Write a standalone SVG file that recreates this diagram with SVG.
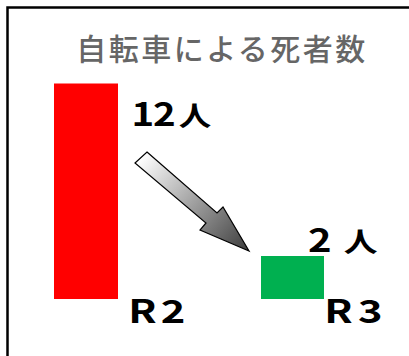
<svg xmlns="http://www.w3.org/2000/svg" width="409" height="356" viewBox="0 0 409 356">
<style>
.lbl{font-family:"Noto Sans CJK JP","Liberation Sans",sans-serif;font-weight:bold;font-size:32px;fill:#000}
.jp{font-size:27px}
.title{font-family:"Noto Sans CJK JP","Liberation Sans",sans-serif;font-weight:500;font-size:30px;fill:#666666}
</style>
<defs>
<linearGradient id="g" gradientUnits="userSpaceOnUse" x1="141" y1="157" x2="249" y2="251">
<stop offset="0" stop-color="#ffffff"/>
<stop offset="1" stop-color="#3c3c3c"/>
</linearGradient>
</defs>
<rect width="409" height="356" fill="#fff"/>
<path d="M7.5 356 V7.5 H409" fill="none" stroke="#000" stroke-width="2.5"/>
<g id="title"><text class="title" x="222" y="60" text-anchor="middle" letter-spacing="2.5">自転車による死者数</text></g>
<g id="r2bar"><rect x="54" y="83.5" width="64" height="215.5" fill="#ff0000"/></g>
<g id="r3bar"><rect x="261" y="256" width="63" height="43" fill="#00b050"/></g>
<g id="labels">
<text class="lbl" transform="translate(135 126) scale(1.2 1)"><tspan x="-3">1</tspan><tspan x="15">2</tspan><tspan class="jp" x="36.5">人</tspan></text>
<text class="lbl" transform="translate(310 252) scale(1.25 1)"><tspan x="-1.6">2</tspan><tspan class="jp" x="27">人</tspan></text>
<text class="lbl" transform="translate(132 323) scale(1.3 1)"><tspan x="-2.9">R</tspan><tspan x="22.2">2</tspan></text>
<text class="lbl" transform="translate(328 323) scale(1.3 1)"><tspan x="-2.9">R</tspan><tspan x="23">3</tspan></text>
</g>
<g id="connectors">
<polygon points="147,152 217,213 223,207 249,251 200,230 206,223 135,163" fill="url(#g)" stroke="#000" stroke-width="1.2" stroke-linejoin="miter"/>
</g>
</svg>
